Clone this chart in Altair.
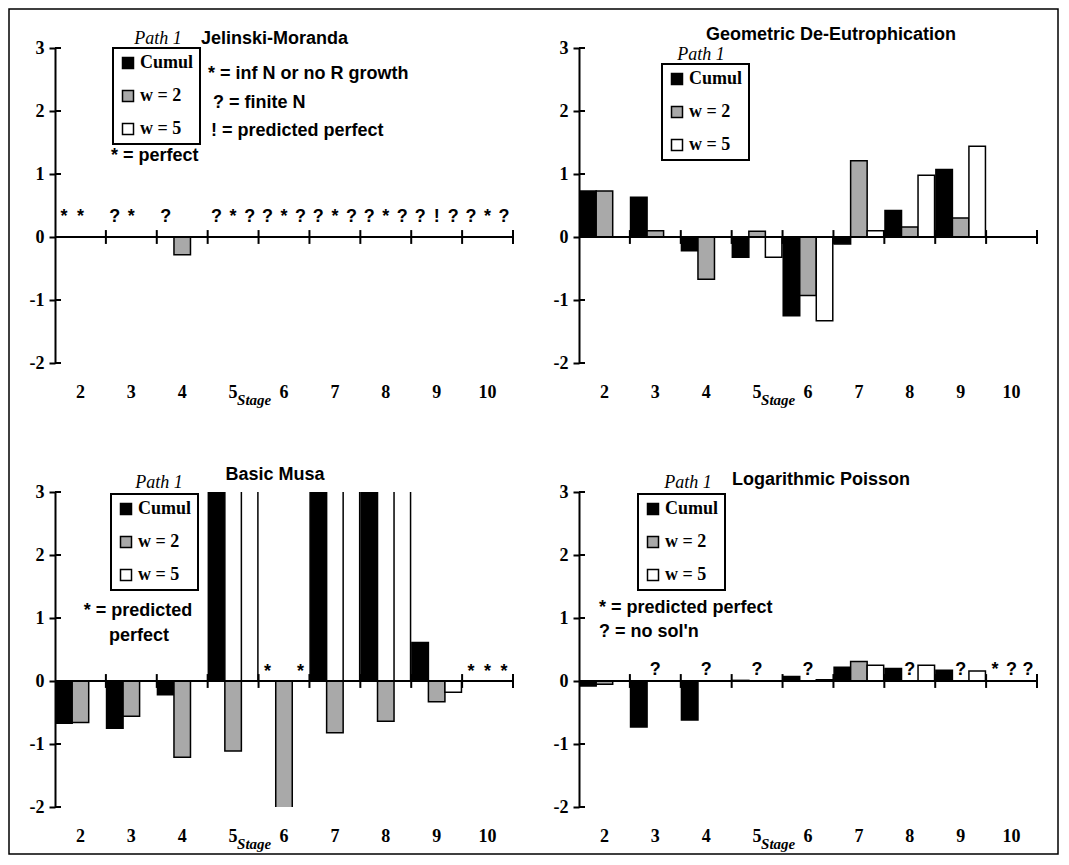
import altair as alt
import pandas as pd

stages = [2, 3, 4, 5, 6, 7, 8, 9, 10]
series = ["Cumul", "w = 2", "w = 5"]
fills = ["black", "#a9a9a9", "white"]
y_ticks = [-2, -1, 0, 1, 2, 3]

# Jelinski-Moranda (None = no bar)
jm_cumul = [None, None, None, None, None, None, None, None, None]
jm_w2 = [None, None, -0.28, None, None, None, None, None, None]
jm_w5 = [None, None, None, None, None, None, None, None, None]
jm_sym_cumul = ["*", "?", "?", "?", "?", "?", "?", "?", "?"]
jm_sym_w2 = ["*", "*", "", "*", "*", "*", "*", "!", "*"]
jm_sym_w5 = ["", "", "", "?", "?", "?", "?", "?", "?"]

# Geometric De-Eutrophication
gd_cumul = [0.73, 0.63, -0.22, -0.32, -1.25, -0.11, 0.42, 1.07, None]
gd_w2 = [0.73, 0.10, -0.67, 0.09, -0.93, 1.21, 0.16, 0.30, None]
gd_w5 = [None, None, None, -0.32, -1.33, 0.10, 0.98, 1.44, None]

# Basic Musa (4.0 = bar runs off the top of the scale)
bm_cumul = [-0.67, -0.75, -0.22, 4.0, None, 4.0, 4.0, 0.61, None]
bm_w2 = [-0.66, -0.56, -1.21, -1.11, -2.03, -0.82, -0.64, -0.33, None]
bm_w5 = [None, None, None, 4.0, None, 4.0, 4.0, -0.18, None]
bm_sym_cumul = ["", "", "", "", "*", "", "", "", "*"]
bm_sym_w2 = ["", "", "", "", "", "", "", "", "*"]
bm_sym_w5 = ["", "", "", "", "*", "", "", "", "*"]

# Logarithmic Poisson
lp_cumul = [-0.08, -0.73, -0.62, 0.01, 0.07, 0.22, 0.20, 0.17, None]
lp_w2 = [-0.05, None, None, None, None, 0.31, None, None, None]
lp_w5 = [None, 0.0, None, 0.0, 0.02, 0.25, 0.25, 0.16, None]
lp_sym_cumul = ["", "", "", "", "", "", "", "", "*"]
lp_sym_w2 = ["", "?", "?", "?", "?", "", "?", "?", "?"]
lp_sym_w5 = ["", "", "", "", "", "", "", "", "?"]

SERIF = "Liberation Serif"
SANS = "Liberation Sans"
W, H = 458, 315


def long_values(c, w2, w5):
    rows = []
    for name, vals in zip(series, [c, w2, w5]):
        for s, v in zip(stages, vals):
            if v is not None:
                rows.append({"stage": s, "series": name, "value": v})
    return pd.DataFrame(rows, columns=["stage", "series", "value"])


def long_syms(c, w2, w5):
    rows = []
    for name, vals in zip(series, [c, w2, w5]):
        for s, v in zip(stages, vals):
            if v:
                rows.append({"stage": s, "series": name, "sym": v})
    return pd.DataFrame(rows, columns=["stage", "series", "sym"])


x_axis = alt.Axis(labelAngle=0, domain=False, ticks=False, labelPadding=20,
                  labelFont=SERIF, labelFontWeight="bold", labelFontSize=18,
                  labelColor="black", grid=False)
y_axis = alt.Axis(values=y_ticks, grid=False, domainColor="black", domainWidth=2,
                  tickColor="black", tickWidth=2, tickSize=6, labelPadding=5,
                  labelFont=SERIF, labelFontWeight="bold", labelFontSize=18,
                  labelColor="black", labelExpr="'' + datum.value")
x_scale = alt.Scale(domain=stages, paddingInner=0, paddingOuter=0)
y_scale = alt.Scale(domain=[-2, 3], nice=False)
off_scale = alt.Scale(domain=series, paddingInner=0, paddingOuter=0.04)


def xenc(band=None):
    if band is None:
        return alt.X("stage:O", scale=x_scale, axis=x_axis, title=None)
    return alt.X("stage:O", scale=x_scale, axis=x_axis, title=None, bandPosition=band)


def text_layer(s, x, y, font=SANS, size=18, weight="bold", style="normal", align="left"):
    return alt.Chart(pd.DataFrame({"t": [s]})).mark_text(
        align=align, baseline="alphabetic", font=font, fontSize=size,
        fontWeight=weight, fontStyle=style, color="black"
    ).encode(x=alt.value(x), y=alt.value(y), text="t:N")


def panel(values, syms, sym_dy, legend_xy, texts, frame=False):
    bars = alt.Chart(values).mark_bar(stroke="black", strokeWidth=1.5, clip=True).encode(
        x=xenc(),
        xOffset=alt.XOffset("series:N", scale=off_scale, title=None),
        y=alt.Y("value:Q", scale=y_scale, axis=y_axis, title=None),
        fill=alt.Fill("series:N", scale=alt.Scale(domain=series, range=fills),
                      legend=alt.Legend(orient="none", legendX=legend_xy[0], legendY=legend_xy[1],
                                        title=None, strokeColor="black", fillColor="white",
                                        padding=6, rowPadding=15, symbolType="square",
                                        symbolSize=121, symbolStrokeColor="black",
                                        symbolStrokeWidth=1.5, labelOffset=3,
                                        labelFont=SERIF, labelFontWeight="bold",
                                        labelFontSize=18, labelColor="black")),
    )
    one = pd.DataFrame({"a": [0]})
    zero = alt.Chart(one).mark_rule(color="black", strokeWidth=2).encode(
        y=alt.datum(0, scale=y_scale))
    bt = alt.Chart(pd.DataFrame({"stage": stages[1:]})).mark_rule(color="black", strokeWidth=2).encode(
        x=xenc(0), y=alt.datum(-0.11), y2=alt.datum(0.11))
    bt_end = alt.Chart(pd.DataFrame({"stage": stages[-1:]})).mark_rule(color="black", strokeWidth=2).encode(
        x=xenc(1), y=alt.datum(-0.11), y2=alt.datum(0.11))
    yt = alt.Chart(pd.DataFrame({"v": y_ticks})).mark_rule(color="black", strokeWidth=2).encode(
        y=alt.Y("v:Q", scale=y_scale, axis=y_axis, title=None), x=alt.value(0), x2=alt.value(6))
    sym = alt.Chart(syms).mark_text(font=SANS, fontWeight="bold", fontSize=18,
                                    baseline="alphabetic", dy=sym_dy, color="black").encode(
        x=xenc(),
        xOffset=alt.XOffset("series:N", scale=off_scale, title=None),
        y=alt.datum(0),
        text="sym:N",
    )
    stage_lbl = alt.Chart(pd.DataFrame({"stage": [5], "t": ["Stage"]})).mark_text(
        font=SERIF, fontStyle="italic", fontWeight="bold", fontSize=15, align="left",
        baseline="alphabetic", dx=4, color="black").encode(
        x=xenc(), y=alt.value(H + 42), text="t:N")
    layers = [bars, zero, bt, bt_end, yt, sym, stage_lbl] + texts
    if frame:
        layers.append(alt.Chart(one).mark_rect(fillOpacity=0, stroke="black", strokeWidth=1.5).encode(
            x=alt.value(-46), x2=alt.value(1003), y=alt.value(-39), y2=alt.value(806)))
    return alt.layer(*layers).properties(width=W, height=H)


tl = panel(
    long_values(jm_cumul, jm_w2, jm_w5), long_syms(jm_sym_cumul, jm_sym_w2, jm_sym_w5), -15, (58, 0),
    [
        text_layer("Path 1", 103, -4, font=SERIF, style="italic", weight="normal", align="center"),
        text_layer("Jelinski-Moranda", 146, -4),
        text_layer("* = inf N or no R growth", 153, 31),
        text_layer("? = finite N", 158, 60),
        text_layer("! = predicted perfect", 156, 88),
        text_layer("* = perfect", 56, 113),
    ],
    frame=True,
)
tr = panel(
    long_values(gd_cumul, gd_w2, gd_w5), long_syms([""] * 9, [""] * 9, [""] * 9), -6, (83, 16),
    [
        text_layer("Path 1", 122, 12, font=SERIF, style="italic", weight="normal", align="center"),
        text_layer("Geometric De-Eutrophication", 252, -8, align="center"),
    ],
)
bl = panel(
    long_values(bm_cumul, bm_w2, bm_w5), long_syms(bm_sym_cumul, bm_sym_w2, bm_sym_w5), -4, (56, 2),
    [
        text_layer("Path 1", 104, -4, font=SERIF, style="italic", weight="normal", align="center"),
        text_layer("Basic Musa", 220, -12, align="center"),
        text_layer("* = predicted", 83, 124, align="center"),
        text_layer("perfect", 84, 149, align="center"),
    ],
)
br = panel(
    long_values(lp_cumul, lp_w2, lp_w5), long_syms(lp_sym_cumul, lp_sym_w2, lp_sym_w5), -6, (59, 2),
    [
        text_layer("Path 1", 109, -4, font=SERIF, style="italic", weight="normal", align="center"),
        text_layer("Logarithmic Poisson", 242, -7, align="center"),
        text_layer("* = predicted perfect", 20, 121),
        text_layer("? = no sol'n", 20, 145),
    ],
)

chart = alt.concat(
    tl, tr, bl, br, columns=2, spacing={"row": 129, "column": 66}, bounds="flush"
).resolve_scale(fill="independent").resolve_legend(fill="independent").properties(
    padding=0, background="white"
).configure_view(stroke=None).configure_legend(strokeWidth=2)

chart.save("out.html", embed_options={"renderer": "svg", "actions": False})
